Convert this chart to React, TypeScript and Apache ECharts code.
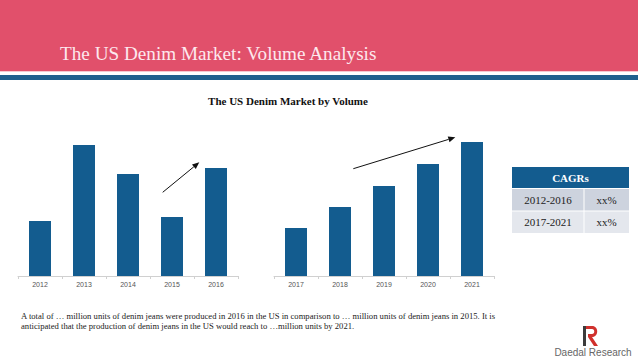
import React, { useEffect, useRef } from "react";
import * as echarts from "echarts";

const yearsA = ["2012", "2013", "2014", "2015", "2016"];
const valuesA = [55, 131, 102, 59, 108];
const yearsB = ["2017", "2018", "2019", "2020", "2021"];
const valuesB = [48, 69, 90, 112, 134];
const cagrPeriods = ["2012-2016", "2017-2021"];
const cagrValues = ["xx%", "xx%"];

const PINK = "#e1506b";
const BLUE = "#135c8f";
const SERIF = "'Liberation Serif', 'Times New Roman', serif";

echarts.graphic.registerShape(
  "rlogo",
  echarts.graphic.extendPath(
    "M0 0 H6 C13 0 13 11 6 11 L12 20 H8 L2 11 V8 H6 C9 8 9 3 6 3 H0 Z",
    {}
  ) as any
);

function arrow(x1: number, y1: number, x2: number, y2: number) {
  const a = Math.atan2(y2 - y1, x2 - x1);
  const L = 7;
  const W = 3;
  const bx = x2 - L * Math.cos(a);
  const by = y2 - L * Math.sin(a);
  return [
    {
      type: "line",
      shape: { x1, y1, x2: bx, y2: by },
      style: { stroke: "#111", lineWidth: 1 },
    },
    {
      type: "polygon",
      shape: {
        points: [
          [x2, y2],
          [bx - W * Math.sin(a), by + W * Math.cos(a)],
          [bx + W * Math.sin(a), by - W * Math.cos(a)],
        ],
      },
      style: { fill: "#111" },
    },
  ];
}

export default function App() {
  const ref = useRef<HTMLDivElement>(null);
  useEffect(() => {
    const chart = echarts.init(ref.current!, null, { renderer: "svg" });
    const axisCommon = {
      type: "category" as const,
      axisLine: { lineStyle: { color: "#d0d0d0", width: 1 } },
      axisTick: { show: true, alignWithLabel: false, length: 3, lineStyle: { color: "#d0d0d0" } },
      axisLabel: { fontSize: 7, color: "#555", margin: 5, fontFamily: "Liberation Sans, Arial, sans-serif" },
    };
    const yCommon = {
      type: "value" as const,
      min: 0,
      max: 140,
      show: false,
      splitLine: { show: false },
    };
    const tableX = 512;
    const colX = 584;
    const tableW = 117;
    const rowTop = 189;
    const rowH = 22.5;
    const tableGraphics: any[] = [
      { type: "rect", shape: { x: tableX, y: 167, width: tableW, height: 21 }, style: { fill: BLUE } },
      {
        type: "text",
        x: tableX + tableW / 2,
        y: 177.5,
        style: { text: "CAGRs", fill: "#fff", font: `bold 11px ${SERIF}`, align: "center", verticalAlign: "middle" },
      },
    ];
    cagrPeriods.forEach((p, i) => {
      const y = rowTop + i * rowH;
      const fill = i === 0 ? "#cdd3de" : "#e4e7ed";
      tableGraphics.push(
        { type: "rect", shape: { x: tableX, y, width: colX - tableX - 0.5, height: rowH - 1 }, style: { fill } },
        { type: "rect", shape: { x: colX + 0.5, y, width: tableX + tableW - colX - 0.5, height: rowH - 1 }, style: { fill } },
        {
          type: "text",
          x: (tableX + colX) / 2,
          y: y + rowH / 2 - 0.5,
          style: { text: p, fill: "#222", font: `11px ${SERIF}`, align: "center", verticalAlign: "middle" },
        },
        {
          type: "text",
          x: (colX + tableX + tableW) / 2,
          y: y + rowH / 2 - 0.5,
          style: { text: cagrValues[i], fill: "#222", font: `11px ${SERIF}`, align: "center", verticalAlign: "middle" },
        }
      );
    });

    chart.setOption({
      animation: false,
      backgroundColor: "#ffffff",
      grid: [
        { left: 18, top: 136, width: 220, height: 140 },
        { left: 274, top: 136, width: 220, height: 140 },
      ],
      xAxis: [
        { ...axisCommon, gridIndex: 0, data: yearsA },
        { ...axisCommon, gridIndex: 1, data: yearsB },
      ],
      yAxis: [
        { ...yCommon, gridIndex: 0 },
        { ...yCommon, gridIndex: 1 },
      ],
      series: [
        { type: "bar", xAxisIndex: 0, yAxisIndex: 0, data: valuesA, barWidth: "50%", itemStyle: { color: BLUE } },
        { type: "bar", xAxisIndex: 1, yAxisIndex: 1, data: valuesB, barWidth: "50%", itemStyle: { color: BLUE } },
      ],
      graphic: [
        { type: "rect", shape: { x: 0, y: 0, width: 638, height: 71 }, style: { fill: PINK } },
        { type: "rect", shape: { x: 0, y: 71, width: 638, height: 1 }, style: { fill: "#f6c9d2" } },
        { type: "rect", shape: { x: 0, y: 75, width: 638, height: 5 }, style: { fill: "#1f5f8e" } },
        {
          type: "text",
          x: 60,
          y: 53,
          style: {
            text: "The US Denim Market: Volume Analysis",
            fill: "#fde8ee",
            font: `19.2px ${SERIF}`,
            verticalAlign: "middle",
          },
        },
        {
          type: "text",
          x: 288,
          y: 101,
          style: {
            text: "The US Denim Market by Volume",
            fill: "#111",
            font: `bold 11px ${SERIF}`,
            align: "center",
            verticalAlign: "middle",
          },
        },
        ...arrow(162.7, 192.3, 199.3, 162.3),
        ...arrow(353.3, 168.7, 455.3, 137.3),
        ...tableGraphics,
        {
          type: "text",
          x: 21,
          y: 311,
          style: {
            text:
              "A total of … million units of denim jeans were produced in 2016 in the US in comparison to … million units of denim jeans in 2015. It is\nanticipated that the production of denim jeans in the US would reach to …million units by 2021.",
            fill: "#222",
            font: `8.65px ${SERIF}`,
            lineHeight: 10,
          },
        },
        { type: "rect", shape: { x: 583, y: 326, width: 3, height: 20 }, style: { fill: "#3c3c3c" } },
        { type: "rlogo", x: 586, y: 326, style: { fill: "#d0312d" } },
        {
          type: "text",
          x: 593,
          y: 352,
          style: {
            text: "Daedal Research",
            fill: "#666",
            font: "10px 'Liberation Sans', Arial, sans-serif",
            align: "center",
            verticalAlign: "middle",
          },
        },
      ],
    });
    return () => chart.dispose();
  }, []);
  return (
    <div
      ref={ref}
      style={{ position: "fixed", left: 0, top: 0, width: 638, height: 359 }}
    />
  );
}
